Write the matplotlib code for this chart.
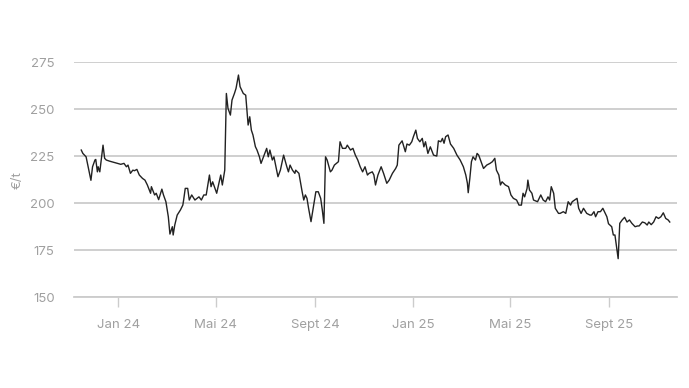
import pandas as pd
import matplotlib
matplotlib.use("Agg")
import matplotlib.pyplot as plt

# price series (EUR per tonne)
dates = [
    "2023-11-16", "2023-11-18", "2023-11-22", "2023-11-28", "2023-11-30",
    "2023-12-03", "2023-12-04", "2023-12-06", "2023-12-07", "2023-12-09",
    "2023-12-13", "2023-12-15", "2023-12-17", "2023-12-21", "2023-12-27",
    "2023-12-31", "2024-01-04", "2024-01-08", "2024-01-11", "2024-01-13",
    "2024-01-16", "2024-01-19", "2024-01-21", "2024-01-24", "2024-01-27",
    "2024-01-31", "2024-02-03", "2024-02-06", "2024-02-10", "2024-02-11",
    "2024-02-15", "2024-02-17", "2024-02-20", "2024-02-24", "2024-02-26",
    "2024-02-29", "2024-03-03", "2024-03-05", "2024-03-08", "2024-03-09",
    "2024-03-11", "2024-03-14", "2024-03-18", "2024-03-21", "2024-03-22",
    "2024-03-24", "2024-03-27", "2024-03-29", "2024-04-01", "2024-04-05",
    "2024-04-10", "2024-04-13", "2024-04-16", "2024-04-19", "2024-04-23",
    "2024-04-25", "2024-04-27", "2024-05-02", "2024-05-07", "2024-05-09",
    "2024-05-11", "2024-05-12", "2024-05-14", "2024-05-16", "2024-05-19",
    "2024-05-21", "2024-05-24", "2024-05-26", "2024-05-29", "2024-05-31",
    "2024-06-04", "2024-06-07", "2024-06-10", "2024-06-12", "2024-06-14",
    "2024-06-16", "2024-06-19", "2024-06-21", "2024-06-24", "2024-06-26",
    "2024-06-29", "2024-07-03", "2024-07-05", "2024-07-07", "2024-07-10",
    "2024-07-12", "2024-07-17", "2024-07-20", "2024-07-24", "2024-07-28",
    "2024-07-30", "2024-08-01", "2024-08-04", "2024-08-07", "2024-08-08",
    "2024-08-12", "2024-08-16", "2024-08-18", "2024-08-20", "2024-08-22",
    "2024-08-24", "2024-08-27", "2024-08-30", "2024-09-02", "2024-09-05",
    "2024-09-08", "2024-09-10", "2024-09-12", "2024-09-14", "2024-09-16",
    "2024-09-20", "2024-09-22", "2024-09-25", "2024-09-30", "2024-10-02",
    "2024-10-05", "2024-10-09", "2024-10-11", "2024-10-15", "2024-10-18",
    "2024-10-21", "2024-10-24", "2024-10-27", "2024-10-30", "2024-11-02",
    "2024-11-05", "2024-11-07", "2024-11-11", "2024-11-13", "2024-11-15",
    "2024-11-18", "2024-11-22", "2024-11-25", "2024-11-29", "2024-12-02",
    "2024-12-06", "2024-12-10", "2024-12-12", "2024-12-14", "2024-12-18",
    "2024-12-22", "2024-12-24", "2024-12-27", "2024-12-30", "2025-01-01",
    "2025-01-04", "2025-01-06", "2025-01-09", "2025-01-12", "2025-01-14",
    "2025-01-16", "2025-01-19", "2025-01-22", "2025-01-26", "2025-01-30",
    "2025-02-01", "2025-02-04", "2025-02-06", "2025-02-08", "2025-02-10",
    "2025-02-13", "2025-02-16", "2025-02-20", "2025-02-24", "2025-02-28",
    "2025-03-04", "2025-03-07", "2025-03-09", "2025-03-10", "2025-03-12",
    "2025-03-14", "2025-03-16", "2025-03-19", "2025-03-21", "2025-03-23",
    "2025-03-26", "2025-03-29", "2025-04-02", "2025-04-06", "2025-04-09",
    "2025-04-12", "2025-04-14", "2025-04-17", "2025-04-19", "2025-04-21",
    "2025-04-25", "2025-04-29", "2025-05-02", "2025-05-05", "2025-05-09",
    "2025-05-12", "2025-05-15", "2025-05-17", "2025-05-19", "2025-05-22",
    "2025-05-23", "2025-05-25", "2025-05-28", "2025-05-30", "2025-06-04",
    "2025-06-08", "2025-06-11", "2025-06-14", "2025-06-17", "2025-06-19",
    "2025-06-21", "2025-06-24", "2025-06-26", "2025-06-30", "2025-07-02",
    "2025-07-06", "2025-07-09", "2025-07-12", "2025-07-15", "2025-07-17",
    "2025-07-20", "2025-07-23", "2025-07-25", "2025-07-28", "2025-07-31",
    "2025-08-04", "2025-08-08", "2025-08-10", "2025-08-13", "2025-08-15",
    "2025-08-18", "2025-08-21", "2025-08-24", "2025-08-27", "2025-08-29",
    "2025-08-31", "2025-09-04", "2025-09-06", "2025-09-08", "2025-09-10",
    "2025-09-12", "2025-09-14", "2025-09-17", "2025-09-20", "2025-09-23",
    "2025-09-26", "2025-09-29", "2025-10-03", "2025-10-06", "2025-10-08",
    "2025-10-12", "2025-10-15", "2025-10-18", "2025-10-20", "2025-10-23",
    "2025-10-26", "2025-10-29", "2025-11-01", "2025-11-04", "2025-11-07",
    "2025-11-10", "2025-11-13", "2025-11-15",
]
prices = [
    228.2, 226.4, 224.6, 212.1, 219.3,
    222.9, 223.2, 216.6, 219.3, 216.6,
    230.8, 223.8, 222.9, 222.3, 221.6,
    221.1, 220.6, 221.1, 219.3, 220.2,
    215.8, 217.5, 217.2, 217.9, 214.9,
    213.1, 212.2, 209.6, 205.2, 208.7,
    204.3, 205.2, 201.8, 207.4, 204.3,
    200.7, 192.7, 183.5, 187.4, 183.0,
    188.3, 193.6, 196.3, 198.9, 201.6,
    207.8, 207.8, 201.6, 204.3, 201.6,
    203.3, 201.6, 204.3, 204.3, 214.9,
    208.7, 211.3, 205.2, 214.9, 209.6,
    214.9, 217.5, 258.3, 250.4, 246.8,
    254.8, 258.3, 261.0, 268.1, 261.9,
    258.3, 257.4, 241.5, 245.9, 238.8,
    236.2, 230.0, 228.2, 224.6, 221.1,
    224.6, 229.1, 224.6, 228.2, 222.9,
    224.6, 214.0, 217.5, 225.5, 219.3,
    216.6, 220.2, 217.5, 215.8, 217.5,
    215.8, 206.0, 201.6, 204.3, 202.5,
    197.2, 190.1, 198.0, 206.0, 206.0,
    202.5, 196.3, 189.2, 224.6, 222.9,
    216.6, 217.5, 220.2, 222.0, 232.6,
    229.1, 229.1, 230.8, 228.2, 229.1,
    225.5, 222.9, 219.3, 216.6, 219.3,
    214.9, 215.8, 216.6, 214.9, 209.6,
    214.9, 219.3, 215.8, 210.5, 212.2,
    215.8, 218.4, 220.2, 230.8, 233.1,
    227.3, 231.4, 230.8, 232.6, 235.3,
    238.8, 234.4, 232.6, 234.4, 229.9,
    232.6, 226.4, 229.9, 225.5, 225.0,
    233.1, 232.6, 234.4, 231.8, 235.3,
    236.2, 231.4, 229.1, 225.5, 222.9,
    219.3, 214.9, 210.5, 205.5, 213.1,
    222.0, 224.6, 222.9, 226.4, 225.5,
    222.0, 218.4, 220.2, 221.1, 222.0,
    223.8, 217.5, 214.9, 209.6, 211.3,
    209.6, 208.7, 204.3, 202.5, 201.6,
    198.9, 198.9, 205.2, 203.3, 207.8,
    212.2, 206.9, 205.2, 201.6, 200.7,
    204.3, 201.6, 200.7, 203.3, 201.6,
    208.7, 205.2, 197.2, 194.5, 194.5,
    195.4, 194.5, 200.7, 198.9, 200.7,
    201.6, 202.5, 197.2, 194.5, 197.2,
    194.5, 193.6, 193.6, 195.4, 192.7,
    195.4, 195.4, 197.2, 194.5, 192.7,
    189.0, 187.4, 183.0, 183.0, 176.7,
    170.4, 189.2, 191.0, 192.4, 189.9,
    191.0, 189.2, 187.4, 187.8, 187.8,
    189.9, 189.5, 188.3, 189.9, 188.5,
    189.9, 192.7, 191.8, 192.7, 194.8,
    191.8, 191.0, 189.9,
]
tick_dates = ["2024-01-01", "2024-05-01", "2024-09-01",
              "2025-01-01", "2025-05-01", "2025-09-01"]
tick_labels = ["Jan 24", "Mai 24", "Sept 24", "Jan 25", "Mai 25", "Sept 25"]
y_ticks = [150, 175, 200, 225, 250, 275]

plt.rcParams['font.family'] = ['Inter', 'DejaVu Sans']
grey = '#a0a0a0'
gridc = '#cccccc'

fig = plt.figure(figsize=(6.89, 3.88), dpi=100)
ax = fig.add_axes([0.1074, 0.2345, 0.8752, 0.6055])

x = pd.to_datetime(dates)
ax.plot(x, prices, color='#222222', lw=1.0, zorder=3)

ax.set_ylim(150, 275)
ax.set_xlim(pd.Timestamp("2023-11-07"), pd.Timestamp("2025-11-24"))
ax.set_yticks(y_ticks)
ax.set_yticklabels([str(v) for v in y_ticks])
ax.grid(axis='y', color=gridc, lw=1.3)
ax.set_axisbelow(True)

ax.set_xticks(pd.to_datetime(tick_dates))
ax.set_xticklabels(tick_labels)

for s in ['top', 'right', 'left']:
    ax.spines[s].set_visible(False)
ax.spines['bottom'].set_color(gridc)
ax.spines['bottom'].set_linewidth(1.3)

ax.tick_params(axis='y', length=0, pad=14, labelsize=9.5, labelcolor=grey)
ax.tick_params(axis='x', length=7, width=1, color=gridc, pad=9,
               labelsize=9.5, labelcolor=grey)

# unit label, placed in figure coordinates so it stays inside the canvas
fig.text(18 / 689, 1 - 180 / 388, '€/t', color=grey, fontsize=9.5,
         rotation=90, ha='center', va='center')

fig.savefig('out.png', dpi=100)
